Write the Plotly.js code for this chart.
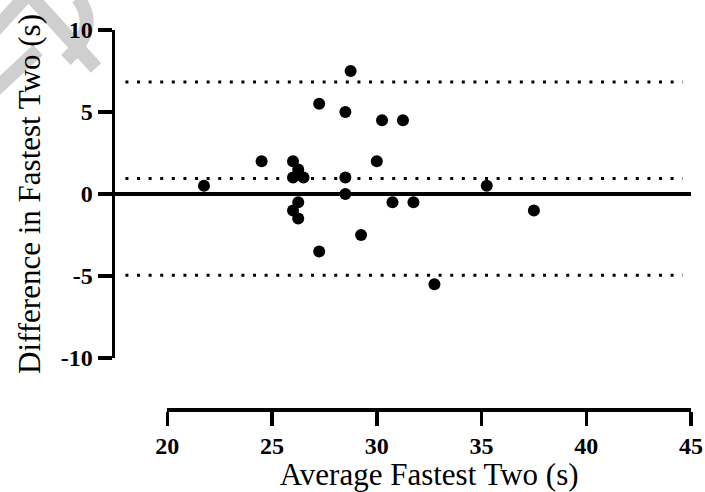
<!DOCTYPE html>
<html>
<head>
<meta charset="utf-8">
<script src="https://cdn.plot.ly/plotly-3.0.1.min.js"></script>
<style>
html,body{margin:0;padding:0;background:#fff;}
#chart{width:705px;height:492px;}
</style>
</head>
<body>
<div id="chart"></div>
<script>
// Bland-Altman data
const avgFastestTwo = [21.75, 24.5, 26, 26.25, 26, 26.5, 26.25, 26, 26.25, 27.25, 27.25, 28.5, 28.75, 28.5, 28.5, 29.25, 30, 30.25, 31.25, 30.75, 31.75, 32.75, 35.25, 37.5];
const diffFastestTwo = [0.5, 2, 2, 1.5, 1, 1, -0.5, -1, -1.5, 5.5, -3.5, 5, 7.5, 1, 0, -2.5, 2, 4.5, 4.5, -0.5, -0.5, -5.5, 0.5, -1];
const bias = 0.94;
const upperLoA = 6.83;
const lowerLoA = -4.96;
const refLineX = [18, 44.6];
const xTicks = [20, 25, 30, 35, 40, 45];
const yTicks = [-10, -5, 0, 5, 10];

const W = 705, H = 492;
const mL = 115, mR = 14.3, mT = 30, mB = 83;
const pw = W - mL - mR, ph = H - mT - mB;
function px2paper(x, y) { return [(x - mL) / pw, (H - mB - y) / ph]; }

const dotted = {color: '#000', width: 3, dash: '3px,8.6px'};
const traces = [
  {x: refLineX, y: [upperLoA, upperLoA], mode: 'lines', line: dotted, xaxis: 'x', yaxis: 'y', hoverinfo: 'skip'},
  {x: refLineX, y: [bias, bias], mode: 'lines', line: dotted, xaxis: 'x', yaxis: 'y', hoverinfo: 'skip'},
  {x: refLineX, y: [lowerLoA, lowerLoA], mode: 'lines', line: dotted, xaxis: 'x', yaxis: 'y', hoverinfo: 'skip'},
  {x: avgFastestTwo, y: diffFastestTwo, mode: 'markers', marker: {color: '#000', size: 12}, xaxis: 'x', yaxis: 'y'},
  // invisible trace so that the detached x axis (xaxis2) is drawn
  {x: [20], y: [null], xaxis: 'x2', yaxis: 'y', mode: 'markers', hoverinfo: 'skip'}
];

// faint watermark strokes (pixel coordinates converted to paper)
function seg(x0, y0, x1, y1) {
  const a = px2paper(x0, y0), b = px2paper(x1, y1);
  return {type: 'line', xref: 'paper', yref: 'paper', x0: a[0], y0: a[1], x1: b[0], y1: b[1],
          line: {color: '#cfcfcf', width: 14}, layer: 'below'};
}
function curve(pts) {
  const p = pts.map(q => px2paper(q[0], q[1]));
  const d = 'M' + p[0][0] + ',' + p[0][1] + ' Q' + p[1][0] + ',' + p[1][1] + ' ' + p[2][0] + ',' + p[2][1];
  return {type: 'path', xref: 'paper', yref: 'paper', path: d, line: {color: '#cfcfcf', width: 14}, layer: 'below'};
}
const shapes = [
  seg(-5, 30, 27, -5),
  seg(30, -5, 96, 68),
  curve([[78, -2], [100, 28], [66, 60]]),
  seg(-5, 90, 38, 50)
];

const xStart = 20 - (167.3 - mL) / 20.94;
const tickFont = {family: 'Liberation Serif, serif', size: 24, weight: 'bold', color: '#000'};
const layout = {
  width: W, height: H,
  margin: {l: mL, r: mR, t: mT, b: mB, pad: 0},
  paper_bgcolor: '#fff', plot_bgcolor: 'rgba(0,0,0,0)',
  showlegend: false,
  font: {family: 'Liberation Serif, Times New Roman, serif', color: '#000'},
  xaxis: {range: [xStart, 45], domain: [0, 1], visible: false, anchor: 'y', fixedrange: true},
  xaxis2: {
    range: [20, 45], domain: [(167.3 - mL) / pw, 1], anchor: 'free', position: 0,
    tickvals: xTicks, ticktext: xTicks.map(String),
    showline: true, linecolor: '#000', linewidth: 3.5,
    ticks: 'outside', ticklen: 14, tickwidth: 3.5, tickcolor: '#000',
    showgrid: false, zeroline: false,
    tickfont: tickFont,
    title: {text: 'Average Fastest Two (s)', font: {family: 'Liberation Serif, serif', size: 31, color: '#000'}, standoff: 4}
  },
  yaxis: {
    range: [-10, 10], domain: [(H - mB - 358) / ph, 1], anchor: 'x',
    tickvals: yTicks, ticktext: yTicks.map(String),
    showline: true, linecolor: '#000', linewidth: 3.5,
    ticks: 'outside', ticklen: 14, tickwidth: 3.5, tickcolor: '#000',
    showgrid: false, zeroline: true, zerolinecolor: '#000', zerolinewidth: 3.5,
    tickfont: tickFont,
    title: {text: 'Difference in Fastest Two (s)', font: {family: 'Liberation Serif, serif', size: 31, color: '#000'}, standoff: 12}
  },
  shapes: shapes
};

Plotly.newPlot('chart', traces, layout, {displayModeBar: false, staticPlot: true});
</script>
</body>
</html>
